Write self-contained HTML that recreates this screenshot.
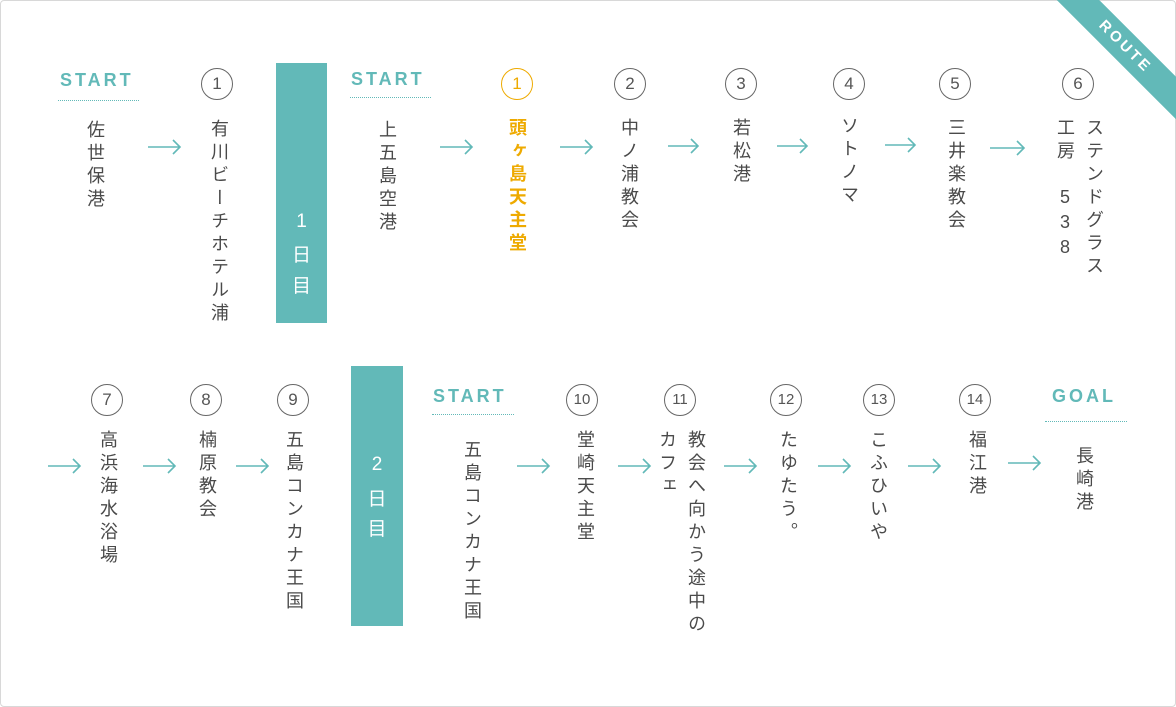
<!DOCTYPE html>
<html><head><meta charset="utf-8"><style>
body{margin:0;width:1176px;height:707px;background:#fff;position:relative;overflow:hidden;font-family:"Liberation Sans","Noto Sans CJK JP",sans-serif;color:#4a4a4a}
.frame{position:absolute;left:0;top:0;width:1174px;height:705px;border:1px solid #d8d8d8;border-radius:4px}
.v{position:absolute;writing-mode:vertical-rl;text-orientation:upright;font-size:18px;letter-spacing:5px;line-height:20px;width:20px;white-space:nowrap}
.c{position:absolute;border:1px solid #666;border-radius:50%;text-align:center;font-size:17px;color:#555;box-sizing:border-box;width:32px;height:32px;line-height:30px}
.lab{position:absolute;color:#62b9b8;font-size:18px;font-weight:bold;letter-spacing:3px}
.dot{position:absolute;border-top:1.5px dotted #62b9b8;height:0}
.bar{position:absolute;background:#62b9b8;color:#fff;font-size:19px;text-align:center}
.bar span{position:absolute;left:0;width:100%}
</style></head><body>
<div class="frame"></div>
<div style="position:absolute;height:30px;background:#62b9b8;transform:rotate(45deg);transform-origin:center;color:#fff;font-size:15px;font-weight:bold;letter-spacing:3px;text-align:center;line-height:30px;left:1035px;top:32px;width:180px">ROUTE</div>

<svg width="1176" height="707" style="position:absolute;left:0;top:0" fill="none" stroke="#62b9b8" stroke-width="1.6">
<path d="M148 147h32M173 140l7 7-7 7M440 147h32M465 140l7 7-7 7M560 147h32M585 140l7 7-7 7M668 146h30M691 139l7 7-7 7M777 146h30M800 139l7 7-7 7M885 145h30M908 138l7 7-7 7M990 148h34M1017 141l7 7-7 7
M48 466h32M73 459l7 7-7 7M143 466h32M168 459l7 7-7 7M236 466h32M261 459l7 7-7 7M517 466h32M542 459l7 7-7 7M618 466h32M643 459l7 7-7 7M724 466h32M749 459l7 7-7 7M818 466h32M843 459l7 7-7 7M908 466h32M933 459l7 7-7 7M1008 463h32M1033 456l7 7-7 7"/>
</svg>

<div class="lab" style="left:60px;top:70px">START</div><div class="dot" style="left:58px;top:100px;width:81px"></div>
<div class="v" style="left:85px;top:120px">佐世保港</div>
<div class="c" style="left:201px;top:68px">1</div>
<div class="v" style="left:209px;top:119px">有川ビーチホテル浦</div>
<div class="bar" style="left:276px;top:63px;width:51px;height:260px"><span style="top:148px">1</span><span style="top:177px">日</span><span style="top:208px">目</span></div>
<div class="lab" style="left:351px;top:69px">START</div><div class="dot" style="left:350px;top:97px;width:81px"></div>
<div class="v" style="left:377px;top:120px">上五島空港</div>
<div class="c" style="left:501px;top:68px;border-color:#eeaa00;color:#eeaa00">1</div>
<div class="v" style="left:507px;top:118px;color:#eeaa00;font-weight:bold">頭ヶ島天主堂</div>
<div class="c" style="left:614px;top:68px">2</div>
<div class="v" style="left:619px;top:118px">中ノ浦教会</div>
<div class="c" style="left:725px;top:68px">3</div>
<div class="v" style="left:731px;top:118px">若松港</div>
<div class="c" style="left:833px;top:68px">4</div>
<div class="v" style="left:839px;top:116px">ソトノマ</div>
<div class="c" style="left:939px;top:68px">5</div>
<div class="v" style="left:946px;top:118px">三井楽教会</div>
<div class="c" style="left:1062px;top:68px">6</div>
<div class="v" style="left:1084px;top:118px">ステンドグラス</div>
<div class="v" style="left:1055px;top:118px">工房　538</div>

<div class="c" style="left:91px;top:384px">7</div>
<div class="v" style="left:98px;top:430px">高浜海水浴場</div>
<div class="c" style="left:190px;top:384px">8</div>
<div class="v" style="left:197px;top:430px">楠原教会</div>
<div class="c" style="left:277px;top:384px">9</div>
<div class="v" style="left:284px;top:430px">五島コンカナ王国</div>
<div class="bar" style="left:351px;top:366px;width:52px;height:260px"><span style="top:88px">2</span><span style="top:118px">日</span><span style="top:148px">目</span></div>
<div class="lab" style="left:433px;top:386px">START</div><div class="dot" style="left:432px;top:414px;width:82px"></div>
<div class="v" style="left:462px;top:440px">五島コンカナ王国</div>
<div class="c" style="left:566px;top:384px;font-size:15px">10</div>
<div class="v" style="left:575px;top:430px">堂崎天主堂</div>
<div class="c" style="left:664px;top:384px;font-size:15px">11</div>
<div class="v" style="left:686px;top:430px">教会へ向かう途中の</div>
<div class="v" style="left:657px;top:430px">カフェ</div>
<div class="c" style="left:770px;top:384px;font-size:15px">12</div>
<div class="v" style="left:778px;top:430px">たゆたう。</div>
<div class="c" style="left:863px;top:384px;font-size:15px">13</div>
<div class="v" style="left:868px;top:430px">こふひいや</div>
<div class="c" style="left:959px;top:384px;font-size:15px">14</div>
<div class="v" style="left:967px;top:430px">福江港</div>
<div class="lab" style="left:1052px;top:386px">GOAL</div><div class="dot" style="left:1045px;top:421px;width:82px"></div>
<div class="v" style="left:1074px;top:446px">長崎港</div>
</body></html>
